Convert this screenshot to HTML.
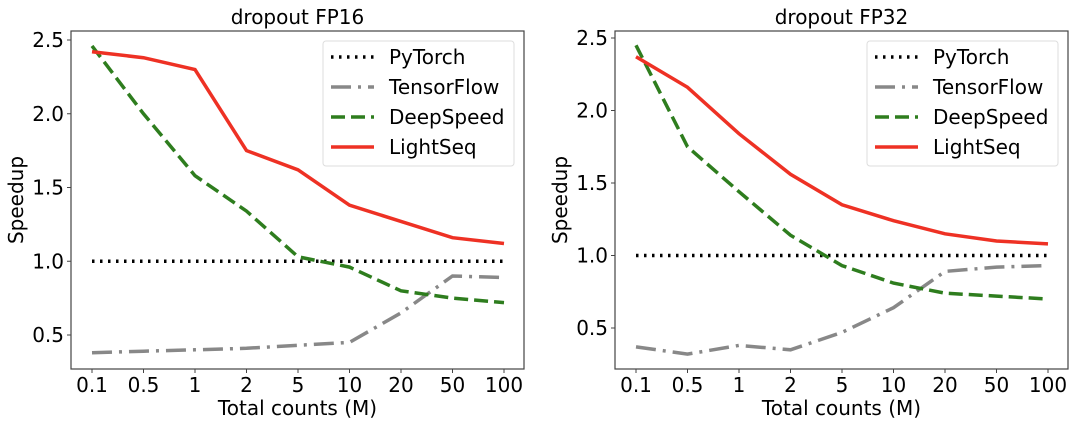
<!DOCTYPE html>
<html><head><meta charset="utf-8"><style>
body{margin:0;background:#fff;}
svg{display:block;font-family:"DejaVu Sans","Liberation Sans",sans-serif;}
</style></head><body>
<svg id="c" width="1080" height="424" xmlns="http://www.w3.org/2000/svg"></svg>
<script>
const categories = ["0.1","0.5","1","2","5","10","20","50","100"];
const yTicks = [0.5,1.0,1.5,2.0,2.5];
const fp16PyTorch = [1,1,1,1,1,1,1,1,1];
const fp16TensorFlow = [0.38,0.39,0.40,0.41,0.43,0.45,0.65,0.90,0.89];
const fp16DeepSpeed = [2.46,2.0,1.58,1.34,1.03,0.96,0.80,0.75,0.72];
const fp16LightSeq = [2.42,2.38,2.30,1.75,1.62,1.38,1.27,1.16,1.12];
const fp32PyTorch = [1,1,1,1,1,1,1,1,1];
const fp32TensorFlow = [0.37,0.32,0.38,0.35,0.47,0.64,0.89,0.92,0.93];
const fp32DeepSpeed = [2.45,1.75,1.44,1.14,0.93,0.81,0.74,0.72,0.70];
const fp32LightSeq = [2.37,2.16,1.84,1.56,1.35,1.24,1.15,1.10,1.08];

const NS="http://www.w3.org/2000/svg";
const svg=document.getElementById('c');
function mk(tag,attrs,parent){const e=document.createElementNS(NS,tag);for(const k in attrs)e.setAttribute(k,attrs[k]);(parent||svg).appendChild(e);return e;}
const styles=[
 {name:"PyTorch",color:"#000",dash:"2.5,5.5",w:3.5},
 {name:"TensorFlow",color:"#888",dash:"20,7,3,7",w:3.5},
 {name:"DeepSpeed",color:"#2e7d1e",dash:"14,6",w:3.5},
 {name:"LightSeq",color:"#ee3124",dash:"",w:3.5}];
const FS=20;
function panel(p){
  const g=mk('g',{});
  
  
  const xs=i=>p.x0+(p.x1-p.x0)*i/(categories.length-1);
  const ys=v=>p.y05+(p.y25-p.y05)*(v-0.5)/2;
  const t=mk('text',{x:(p.bl+p.br)/2,y:24,'text-anchor':'middle','font-size':FS,fill:'#000'},g);t.textContent=p.title;
  
  p.d.forEach((arr,si)=>{
    const s=styles[si];
    const pts=arr.map((v,i)=>xs(i).toFixed(1)+','+ys(v).toFixed(1)).join(' ');
    const l=mk('polyline',{points:pts,fill:'none',stroke:s.color,'stroke-width':s.w,'stroke-dasharray':s.dash},g);
    
    
  });
  const box=mk('rect',{x:p.bl,y:31,width:p.br-p.bl,height:338,fill:'none',stroke:'#444','stroke-width':1.2},g);
  
  yTicks.forEach(v=>{
    mk('line',{x1:p.bl-4,x2:p.bl,y1:ys(v),y2:ys(v),stroke:'#444'},g);
    const tx=mk('text',{x:p.bl-7,y:ys(v)+7,'text-anchor':'end','font-size':FS},g);tx.textContent=v.toFixed(1);
    
  });
  categories.forEach((c,i)=>{
    mk('line',{x1:xs(i),x2:xs(i),y1:369,y2:373,stroke:'#444'},g);
    const tx=mk('text',{x:xs(i),y:392,'text-anchor':'middle','font-size':FS},g);tx.textContent=c;
    
  });
  const xl=mk('text',{x:(p.bl+p.br)/2,y:415,'text-anchor':'middle','font-size':FS},g);xl.textContent="Total counts (M)";
  
  const yl=mk('text',{x:0,y:0,'text-anchor':'middle','font-size':FS,transform:`translate(${p.bl-48},200) rotate(-90)`},g);yl.textContent="Speedup";
  
  const lg=mk('g',{},g);
  
  mk('rect',{x:p.lx,y:41,width:191,height:125,rx:3,fill:'#fff','fill-opacity':0.85,stroke:'#ddd'},lg);
  styles.forEach((s,i)=>{
    const y=57+i*30;
    const e=mk('g',{},lg);
    
    mk('line',{x1:p.lx+8,x2:p.lx+51,y1:y,y2:y,stroke:s.color,'stroke-width':s.w,'stroke-dasharray':s.dash},e);
    const tx=mk('text',{x:p.lx+66,y:y+7,'font-size':FS},e);tx.textContent=s.name;
  });
}
panel({id:'panel-fp16',title:'dropout FP16',bl:71,br:524,x0:92,x1:504,y25:40,y05:335,lx:323,
  d:[fp16PyTorch,fp16TensorFlow,fp16DeepSpeed,fp16LightSeq]});
panel({id:'panel-fp32',title:'dropout FP32',bl:615,br:1068,x0:636,x1:1048,y25:38,y05:328,lx:867,
  d:[fp32PyTorch,fp32TensorFlow,fp32DeepSpeed,fp32LightSeq]});
</script>
</body></html>
